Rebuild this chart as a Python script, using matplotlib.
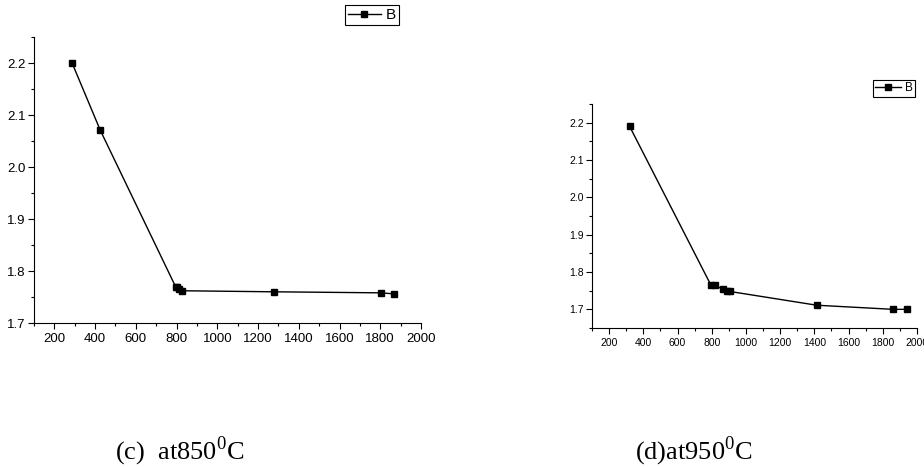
import matplotlib
matplotlib.use('Agg')
import matplotlib.pyplot as plt
from matplotlib.ticker import MultipleLocator

plt.rcParams['font.family'] = ['Liberation Sans', 'DejaVu Sans']
plt.rcParams['mathtext.fontset'] = 'custom'
plt.rcParams['mathtext.rm'] = 'Liberation Serif'

# (c) at 850 C
x_850 = [287, 425, 795, 803, 810, 828, 1277, 1804, 1868]
y_850 = [2.200, 2.071, 1.770, 1.769, 1.766, 1.762, 1.760, 1.758, 1.756]

# (d) at 950 C
x_950 = [320, 794, 818, 866, 892, 904, 1414, 1859, 1943]
y_950 = [2.190, 1.766, 1.764, 1.754, 1.750, 1.748, 1.711, 1.700, 1.700]

series_label = 'B'
captions = ['(c)  at850$^{0}$C', '(d)at950$^{0}$C']

fig = plt.figure(figsize=(9.24, 4.67), dpi=100)


def panel(rect, xs, ys, ylo, fs, ms, leg_fs, leg_anchor):
    ax = fig.add_axes(rect)
    ax.plot(xs, ys, color='black', lw=1, marker='s', ms=ms, label=series_label)
    ax.set_xlim(100, 2000)
    ax.set_ylim(ylo, 2.25)
    ax.xaxis.set_minor_locator(MultipleLocator(100))
    ax.yaxis.set_minor_locator(MultipleLocator(0.05))
    ax.spines['top'].set_visible(False)
    ax.spines['right'].set_visible(False)
    ax.tick_params(which='major', direction='out', length=4, width=0.8, labelsize=fs)
    ax.tick_params(which='minor', direction='out', length=2.5, width=0.8)
    ax.tick_params(axis='x', pad=3)
    ax.tick_params(axis='y', pad=2)
    ax.set_yticks([v / 10 for v in range(17, 23)])
    ax.set_xticks(range(200, 2001, 200))
    ax.set_yticklabels(['%.1f' % (v / 10) for v in range(17, 23)])
    leg = ax.legend(loc='upper right', bbox_to_anchor=leg_anchor,
                    bbox_transform=fig.transFigure, fancybox=False,
                    edgecolor='black', framealpha=1, fontsize=leg_fs,
                    handlelength=2.2, borderpad=0.2, handletextpad=0.3,
                    borderaxespad=0)
    leg.get_frame().set_linewidth(0.8)
    return ax


panel([34 / 924, 1 - 323 / 467, 387 / 924, 286 / 467], x_850, y_850, 1.7,
      9.5, 4.5, 11, (399 / 924, 1 - 5 / 467))
panel([592 / 924, 1 - 328 / 467, 325 / 924, 224 / 467], x_950, y_950, 1.65,
      7.5, 3.8, 8.5, (915 / 924, 1 - 80 / 467))

fig.text(180 / 924, 1 - 451 / 467, captions[0], ha='center', va='center',
         fontsize=19, family='Liberation Serif')
fig.text(694 / 924, 1 - 451 / 467, captions[1], ha='center', va='center',
         fontsize=19, family='Liberation Serif')

fig.savefig('out.png', dpi=100)
